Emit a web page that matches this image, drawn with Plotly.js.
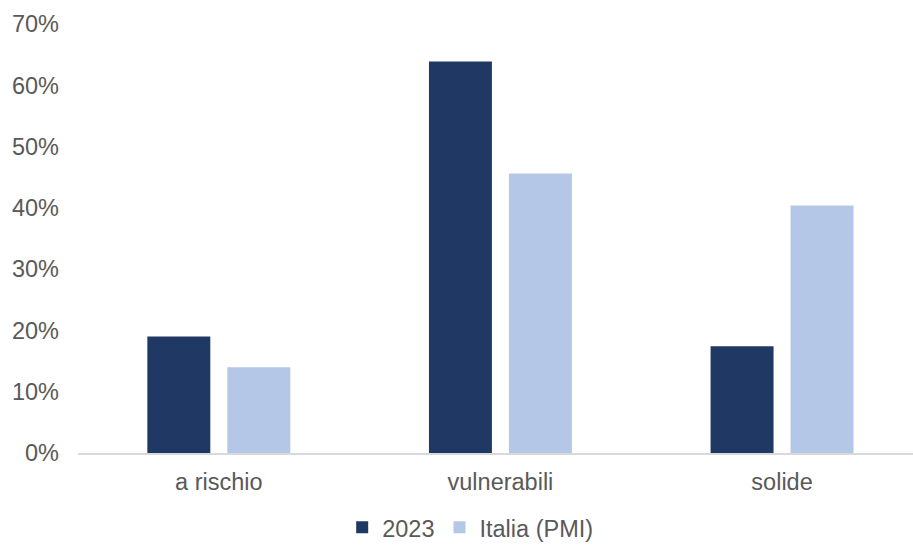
<!DOCTYPE html>
<html>
<head>
<meta charset="utf-8">
<script src="https://cdn.plot.ly/plotly-3.0.1.min.js"></script>
<style>html,body{margin:0;padding:0;background:#fff;}#chart{width:913px;height:545px;}</style>
</head>
<body>
<div id="chart"></div>
<script>
var categories = ["a rischio", "vulnerabili", "solide"];
var series2023 = [19.0, 63.9, 17.4];
var seriesItalia = [14.0, 45.6, 40.4];
var seriesNames = ["2023", "Italia (PMI)"];
var yTickVals = [0, 10, 20, 30, 40, 50, 60, 70];
var yTickText = ["0%", "10%", "20%", "30%", "40%", "50%", "60%", "70%"];

var font = {family: "Liberation Sans, Arial, sans-serif", size: 23.5, color: "#595959"};

var traces = [
  {type: "bar", x: [0,1,2], y: series2023, name: seriesNames[0], marker: {color: "#203864"}, hoverinfo: "none"},
  {type: "bar", x: [0,1,2], y: seriesItalia, name: seriesNames[1], marker: {color: "#B4C7E7"}, hoverinfo: "none"}
];

var layout = {
  width: 913, height: 545,
  margin: {l: 78, r: 0, t: 24, b: 92},
  paper_bgcolor: "#fff", plot_bgcolor: "#fff",
  font: font,
  barmode: "group",
  bargap: 0.432,
  bargroupgap: 0.2125,
  showlegend: true,
  legend: {orientation: "h", xref: "container", yref: "container", x: 0.515, xanchor: "center", y: 0.032, yanchor: "middle", font: font, itemwidth: 30, traceorder: "normal"},
  xaxis: {
    range: [-0.5, 2.465],
    tickvals: [0,1,2], ticktext: categories,
    showline: true, linecolor: "#D9D9D9", linewidth: 1.5,
    showgrid: false, zeroline: false, ticks: "", tickfont: font,
    ticklabelstandoff: 7
  },
  yaxis: {
    range: [0, 70],
    tickvals: yTickVals, ticktext: yTickText,
    showgrid: false, zeroline: false, showline: false, ticks: "",
    tickfont: font, ticklabelstandoff: 18
  }
};

Plotly.newPlot("chart", traces, layout, {displayModeBar: false, staticPlot: true});
</script>
</body>
</html>
